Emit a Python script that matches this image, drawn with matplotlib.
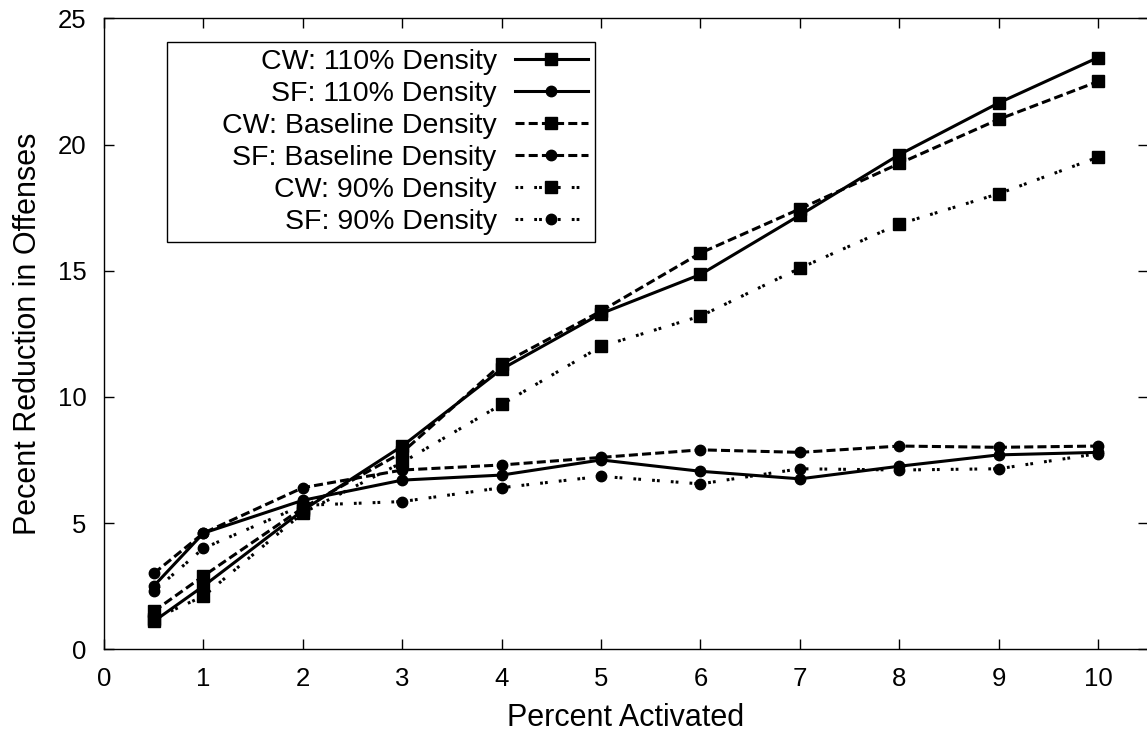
import matplotlib.pyplot as plt
from matplotlib.offsetbox import DrawingArea

plt.rcParams["font.family"] = ["Liberation Sans", "DejaVu Sans"]
plt.rcParams["lines.scale_dashes"] = False

x = [0.5, 1, 2, 3, 4, 5, 6, 7, 8, 9, 10]
cw_110 = [1.1, 2.5, 5.5, 8.05, 11.1, 13.3, 14.85, 17.2, 19.6, 21.65, 23.45]
sf_110 = [2.5, 4.6, 5.9, 6.7, 6.9, 7.5, 7.05, 6.75, 7.25, 7.7, 7.8]
cw_base = [1.5, 2.9, 5.6, 7.8, 11.3, 13.4, 15.7, 17.45, 19.25, 21.0, 22.5]
sf_base = [3.0, 4.6, 6.4, 7.1, 7.3, 7.6, 7.9, 7.8, 8.05, 8.0, 8.05]
cw_90 = [1.2, 2.1, 5.4, 7.4, 9.7, 12.0, 13.2, 15.1, 16.85, 18.05, 19.5]
sf_90 = [2.3, 4.0, 5.7, 5.85, 6.4, 6.85, 6.55, 7.15, 7.1, 7.15, 7.75]

labels = ["CW: 110% Density", "SF: 110% Density",
          "CW: Baseline Density", "SF: Baseline Density",
          "CW: 90% Density", "SF: 90% Density"]
series = [cw_110, sf_110, cw_base, sf_base, cw_90, sf_90]

solid = "-"
dashed = (0, (6.5, 3.0))
dotted = (0, (2.0, 1.5, 2.0, 8.0))
styles = [(solid, "s"), (solid, "o"), (dashed, "s"), (dashed, "o"),
          (dotted, "s"), (dotted, "o")]

fig = plt.figure(figsize=(11.47, 7.36), dpi=100)
ax = fig.add_axes([0.0907, 0.118, 0.910, 0.857])

for y, lab, (ls, mk) in zip(series, labels, styles):
    ax.plot(x, y, color="black", linestyle=ls, linewidth=2.2, marker=mk,
            markersize=8 if mk == "s" else 7.5, label=lab)

ax.set_xlim(0, 10.5)
ax.set_ylim(0, 25)
ax.set_xticks(range(0, 11))
ax.set_yticks(range(0, 26, 5))
ax.tick_params(direction="in", length=7, width=1, top=True, right=True,
               labelsize=18.5, pad=12.5)
for s in ax.spines.values():
    s.set_linewidth(1)

ax.set_xlabel("Percent Activated", fontsize=22, labelpad=9)
ax.set_ylabel("Pecent Reduction in Offenses", fontsize=22, labelpad=11)

fs = 20.5
leg = ax.legend(loc="upper left", bbox_to_anchor=(0.060, 0.962),
                borderaxespad=0, markerfirst=False, fontsize=fs,
                handlelength=2.57, labelspacing=0.21, fancybox=False,
                framealpha=1, edgecolor="black", borderpad=0.24,
                handletextpad=0.63, columnspacing=1.7)
leg.get_frame().set_linewidth(1)
# gnuplot-style key: extra room on the left of the right-aligned labels
leg._legend_handle_box.get_children().insert(0, DrawingArea(0, 1))

fig.savefig("out.png", dpi=100)
